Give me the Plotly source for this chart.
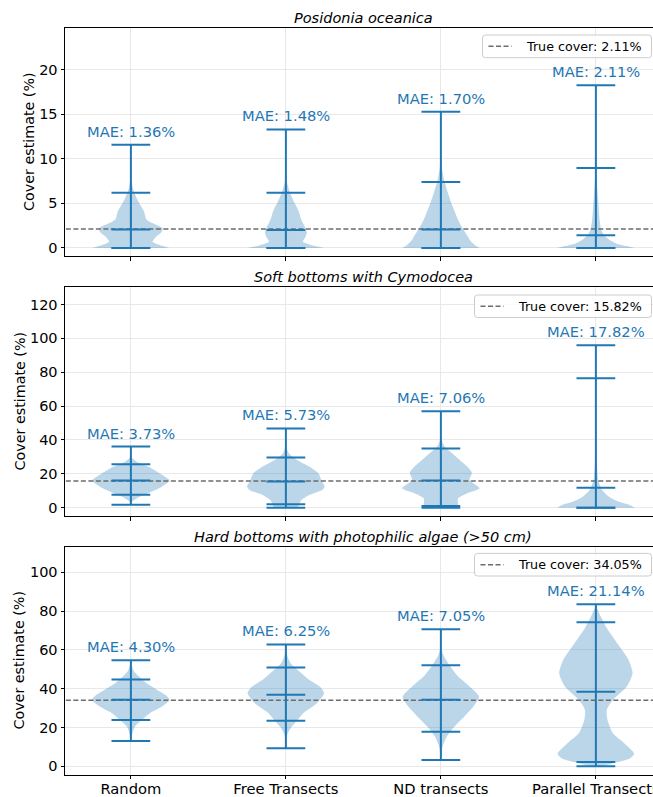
import plotly.graph_objects as go

# ---------------- data ----------------
methods = ["Random", "Free Transects", "ND transects", "Parallel Transects"]
positions = [1, 2, 3, 4]

titles = ["Posidonia oceanica", "Soft bottoms with Cymodocea",
          "Hard bottoms with photophilic algae (>50 cm)"]
true_cover = [2.11, 15.82, 34.05]
mae = [[1.36, 1.48, 1.70, 2.11],
       [3.73, 5.73, 7.06, 17.82],
       [4.30, 6.25, 7.05, 21.14]]

stat_min = [[0, 0, 0, 0], [1.8, 0, 0, 0], [13.1, 9.3, 3.3, 0]]
stat_q05 = [[0, 0, 0, 0], [7.7, 2.0, 1.0, 0], [23.9, 23.5, 17.8, 2.2]]
stat_mid = [[2.08, 2.0, 2.08, 1.43], [16.0, 15.4, 16.0, 11.8], [34.3, 36.9, 34.3, 38.4]]
stat_q95 = [[6.19, 6.19, 7.4, 8.98], [25.7, 29.6, 34.9, 76.4], [44.8, 51.0, 52.1, 74.2]]
stat_max = [[11.58, 13.3, 15.3, 18.26], [36.1, 46.8, 56.9, 95.9], [54.7, 62.8, 70.6, 83.6]]

# density profiles (value, half-width)
prof_y = [
    [
        [0, 0.25, 0.7, 1.2, 1.8, 2.2, 2.7, 3.2, 4.1, 4.7, 5.5, 6.3, 7.4, 9, 11.58],
        [0, 0.25, 0.7, 1.2, 1.7, 2.3, 2.8, 3.4, 4.0, 4.6, 5.1, 6.3, 7.4, 9, 13.3],
        [0, 0.3, 0.8, 1.4, 2.2, 3.2, 4.7, 6.2, 7.7, 9.3, 12, 15.3],
        [0, 0.2, 0.5, 1.0, 1.5, 2.0, 3.0, 4.0, 6.0, 8.0, 10.0, 13, 18.26],
    ],
    [
        [1.8, 3.5, 5.5, 8.5, 12.4, 16.0, 20.3, 24.3, 27.2, 29.5, 32, 36.1],
        [0, 1.6, 4.5, 7.5, 10.5, 12.4, 16, 20.3, 24.3, 28, 32, 35, 40, 46.8],
        [0, 2.6, 5.5, 8.5, 11.5, 16.4, 20.7, 24.3, 30, 36, 40, 45, 56.9],
        [0, 1.6, 3.5, 6.5, 10.5, 16.4, 26, 40, 56, 95.9],
    ],
    [
        [13.1, 17, 20.4, 23.9, 27.3, 30.8, 34.3, 37, 39.4, 42.9, 46.4, 49, 51.6, 54.7],
        [9.3, 14, 17, 20.4, 23.9, 27.3, 32.5, 37.7, 41, 44.6, 49.8, 53.3, 56.7, 62.8],
        [3.3, 9.7, 15.2, 20.4, 25.6, 30.8, 36, 41.2, 46.4, 51.6, 56.7, 60.2, 65, 70.6],
        [0, 1.4, 4, 6.6, 11.8, 17, 23.9, 29.1, 34.3, 41.2, 48, 55, 62, 70.6, 77.5, 81.8, 83.6],
    ],
]
prof_w = [
    [
        [0.25, 0.2, 0.14, 0.16, 0.2, 0.205, 0.15, 0.1, 0.085, 0.065, 0.04, 0.02, 0.006, 0.002, 0],
        [0.25, 0.18, 0.11, 0.125, 0.135, 0.125, 0.11, 0.095, 0.085, 0.07, 0.054, 0.025, 0.007, 0.002, 0],
        [0.25, 0.22, 0.19, 0.17, 0.14, 0.11, 0.075, 0.045, 0.02, 0.005, 0.001, 0],
        [0.25, 0.2, 0.13, 0.08, 0.05, 0.035, 0.025, 0.02, 0.012, 0.005, 0.002, 0.001, 0],
    ],
    [
        [0, 0.005, 0.037, 0.11, 0.2, 0.25, 0.185, 0.11, 0.037, 0.008, 0.002, 0],
        [0.075, 0.085, 0.1, 0.15, 0.235, 0.25, 0.23, 0.21, 0.15, 0.075, 0.02, 0.006, 0.001, 0],
        [0.11, 0.11, 0.11, 0.17, 0.25, 0.185, 0.2, 0.17, 0.1, 0.025, 0.005, 0.001, 0],
        [0.25, 0.22, 0.15, 0.085, 0.04, 0.015, 0.007, 0.003, 0.001, 0],
    ],
    [
        [0, 0.01, 0.025, 0.07, 0.12, 0.2, 0.25, 0.22, 0.17, 0.1, 0.05, 0.02, 0.007, 0],
        [0, 0.003, 0.012, 0.037, 0.075, 0.11, 0.2, 0.247, 0.22, 0.15, 0.075, 0.03, 0.01, 0],
        [0, 0.01, 0.037, 0.086, 0.15, 0.21, 0.247, 0.185, 0.11, 0.06, 0.02, 0.005, 0.001, 0],
        [0.025, 0.1, 0.22, 0.247, 0.185, 0.11, 0.075, 0.07, 0.11, 0.2, 0.237, 0.21, 0.15, 0.075, 0.03, 0.007, 0],
    ],
]

y_ranges = [[-0.91, 24.7], [-4.9, 130.3], [-4.2, 113.2]]
y_ticks = [[0, 5, 10, 15, 20], [0, 20, 40, 60, 80, 100, 120], [0, 20, 40, 60, 80, 100]]
y_label = "Cover estimate (%)"

# ---------------- layout constants ----------------
W, H = 653, 797
L = 65
panel_px = [(28, 256), (287, 516), (546.7, 774.5)]
legend_box_px = [(482.5, 35, 651.5, 57.7), (474.5, 295, 651.5, 317.5), (474.5, 553.4, 651.5, 576)]
ylabel_x_px = [29, 19, 19]
BLUE = "#1f77b4"
FILL = "rgba(31,119,180,0.3)"
GRAY = "#6c6c6c"
FONT = "DejaVu Sans"
CAP = 0.125


def px_x(v):
    return (v - L) / (W - L)


def px_y(v):
    return 1 - v / H


fig = go.Figure()

for p in range(3):
    xa = "x" if p == 0 else f"x{p+1}"
    ya = "y" if p == 0 else f"y{p+1}"
    # violin bodies
    for i, pos in enumerate(positions):
        ys = prof_y[p][i]
        ws = prof_w[p][i]
        xs = [pos + w for w in ws] + [pos - w for w in reversed(ws)]
        yy = list(ys) + list(reversed(ys))
        fig.add_trace(go.Scatter(
            x=xs, y=yy, fill="toself", fillcolor=FILL, mode="lines",
            line=dict(width=0, shape="spline", smoothing=0.6),
            hoverinfo="skip", showlegend=False, xaxis=xa, yaxis=ya))
    # true cover dashed line
    fig.add_trace(go.Scatter(
        x=[0.0, 5.0], y=[true_cover[p], true_cover[p]], mode="lines",
        line=dict(color=GRAY, width=1.5, dash="5px,2.5px"),
        name=f"True cover: {true_cover[p]:.2f}%",
        showlegend=False, hoverinfo="skip", xaxis=xa, yaxis=ya))
    # stat lines
    lx, ly = [], []
    for i, pos in enumerate(positions):
        lx += [pos, pos, None]
        ly += [stat_min[p][i], stat_max[p][i], None]
        for v in (stat_min[p][i], stat_q05[p][i], stat_mid[p][i], stat_q95[p][i], stat_max[p][i]):
            lx += [pos - CAP, pos + CAP, None]
            ly += [v, v, None]
    fig.add_trace(go.Scatter(
        x=lx, y=ly, mode="lines", line=dict(color=BLUE, width=2),
        hoverinfo="skip", showlegend=False, xaxis=xa, yaxis=ya))
    # MAE labels
    for i, pos in enumerate(positions):
        fig.add_annotation(
            x=pos, y=stat_max[p][i], xref=xa, yref=ya, text=f"MAE: {mae[p][i]:.2f}%",
            showarrow=False, yanchor="bottom", yshift=3,
            font=dict(family=FONT, size=14.7, color=BLUE))
    # title
    fig.add_annotation(
        x=2.5, y=1, xref=xa, yref=f"{ya} domain", text=titles[p],
        showarrow=False, yanchor="bottom", yshift=0,
        font=dict(family=FONT, size=14.5, color="black", style="italic"))
    # y label
    fig.add_annotation(
        x=px_x(ylabel_x_px[p]), xref="paper", xanchor="center",
        y=0.5, yref=f"{ya} domain", yanchor="middle", textangle=-90,
        text=y_label, showarrow=False,
        font=dict(family=FONT, size=14.3, color="black"))
    # legend (drawn as box + sample line + text)
    bx0, by0, bx1, by1 = legend_box_px[p]
    r = 3
    X0, X1 = px_x(bx0), px_x(bx1)
    YT, YB = px_y(by0), px_y(by1)
    rx, ry = r / (W - L), r / H
    path = (f"M {X0+rx},{YT} L {X1-rx},{YT} Q {X1},{YT} {X1},{YT-ry} "
            f"L {X1},{YB+ry} Q {X1},{YB} {X1-rx},{YB} L {X0+rx},{YB} "
            f"Q {X0},{YB} {X0},{YB+ry} L {X0},{YT-ry} Q {X0},{YT} {X0+rx},{YT} Z")
    fig.add_shape(type="path", path=path, xref="paper", yref="paper",
                  fillcolor="rgba(255,255,255,0.8)", line=dict(color="#cccccc", width=1),
                  layer="above")
    cy = px_y((by0 + by1) / 2)
    fig.add_shape(type="line", xref="paper", yref="paper",
                  x0=px_x(bx0 + 6), x1=px_x(bx0 + 29), y0=cy, y1=cy,
                  line=dict(color=GRAY, width=1.5, dash="5px,2.5px"), layer="above")
    fig.add_annotation(
        x=px_x(bx0 + 41.5), xref="paper", xanchor="left", y=cy, yref="paper", yanchor="middle",
        text=f"True cover: {true_cover[p]:.2f}%", showarrow=False,
        font=dict(family=FONT, size=12.7, color="black"))

common_x = dict(
    range=[0.575, 0.575 + (W - L) / 155.0], tickvals=positions, ticktext=methods,
    ticks="outside", ticklen=3.5, tickwidth=1, tickcolor="black",
    showgrid=True, gridcolor="#e8e8e8", gridwidth=1, zeroline=False,
    showline=True, mirror=True, linecolor="black", linewidth=1,
    tickfont=dict(family=FONT, size=14.7, color="black"), automargin=False,
    ticklabeloverflow="allow",
)
common_y = dict(
    ticks="outside", ticklen=3.5, tickwidth=1, tickcolor="black",
    showgrid=True, gridcolor="#e8e8e8", gridwidth=1, zeroline=False,
    showline=True, mirror=False, linecolor="black", linewidth=1,
    tickfont=dict(family=FONT, size=14.5, color="black"), automargin=False,
)

layout = dict(
    width=W, height=H, margin=dict(l=L, r=0, t=0, b=0),
    plot_bgcolor="white", paper_bgcolor="white",
    font=dict(family=FONT, color="black"), showlegend=False,
)
for p in range(3):
    top, bot = panel_px[p]
    dom = [1 - bot / H, 1 - top / H]
    xk = "xaxis" if p == 0 else f"xaxis{p+1}"
    yk = "yaxis" if p == 0 else f"yaxis{p+1}"
    ya = "y" if p == 0 else f"y{p+1}"
    xa = "x" if p == 0 else f"x{p+1}"
    layout[xk] = dict(common_x, anchor=ya, domain=[0, 1], showticklabels=(p == 2))
    if p == 2:
        layout[xk]["ticklabelstandoff"] = -3
    layout[yk] = dict(common_y, anchor=xa, domain=dom, range=y_ranges[p], tickvals=y_ticks[p])

fig.update_layout(**layout)
fig.write_html("out.html", config={"displayModeBar": False},
               post_script="document.body.style.margin='0';document.body.style.overflow='hidden';")
